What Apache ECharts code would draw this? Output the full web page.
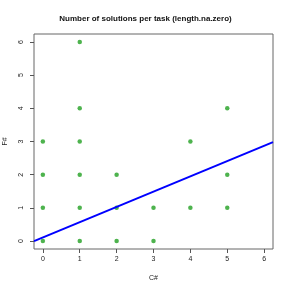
<!DOCTYPE html>
<html><head><meta charset="utf-8">
<script src="https://cdn.jsdelivr.net/npm/echarts@6/dist/echarts.min.js"></script>
<style>html,body{margin:0;padding:0;background:#fff}#c{width:291px;height:291px}</style>
</head><body><div id="c"></div>
<script>
const csCounts = [0,0,0,0,1,1,1,1,1,1,2,2,2,3,3,4,4,5,5,5];
const fsCounts = [0,1,2,3,0,1,2,3,4,6,0,1,2,0,1,1,3,1,2,4];
const tickValues = [0,1,2,3,4,5,6];
const fitIntercept = 0.11;
const fitSlope = 0.46;
const axisMin = -0.24, axisMax = 6.24;

const points = csCounts.map((x,i)=>[x, fsCounts[i]]);
const fitLine = [axisMin, axisMax].map(x=>[x, fitIntercept + fitSlope*x]);

const font = 'Liberation Sans, Arial, sans-serif';
const chart = echarts.init(document.getElementById('c'));
const axisCommon = {
  type:'value', min:axisMin, max:axisMax,
  splitLine:{show:false},
  axisLine:{show:false, onZero:false},
  axisTick:{show:true, inside:false, customValues:tickValues, length:4, lineStyle:{color:'#555'}},
  axisLabel:{customValues:tickValues, color:'#222', fontSize:7, fontFamily:font, margin:7},
  nameTextStyle:{color:'#222', fontSize:7, fontFamily:font}
};
chart.setOption({
  animation:false,
  title:{text:'Number of solutions per task (length.na.zero)', left:'center', top:10,
    textStyle:{fontSize:8, fontWeight:'bold', color:'#111', fontFamily:font}},
  grid:{left:34, right:18, top:34, bottom:42, show:true, borderColor:'#666', borderWidth:1,
    containLabel:false, outerBoundsMode:'none'},
  xAxis:Object.assign({}, axisCommon, {name:'C#', nameLocation:'middle', nameGap:26}),
  yAxis:Object.assign({}, axisCommon, {name:'F#', nameLocation:'middle', nameGap:25,
    axisLabel:Object.assign({}, axisCommon.axisLabel, {rotate:90, margin:9})}),
  series:[
    {type:'scatter', data:points, symbolSize:4.5, itemStyle:{color:'#22a022'}},
    {type:'line', data:fitLine, symbol:'none', clip:true, lineStyle:{color:'#0000ff', width:2}}
  ]
});
</script></body></html>
